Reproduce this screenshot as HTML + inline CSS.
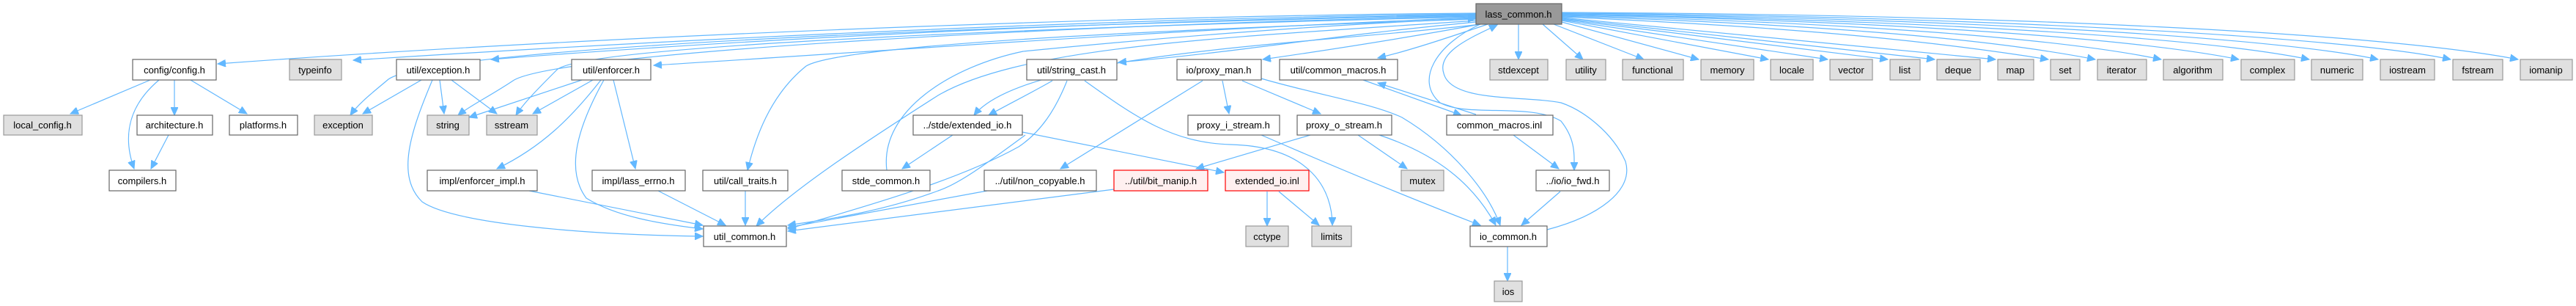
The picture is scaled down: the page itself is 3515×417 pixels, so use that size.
<!DOCTYPE html>
<html><head><meta charset="utf-8"><style>
html,body{margin:0;padding:0;background:#fff;}
svg{display:block;}
text{font-family:"Liberation Sans",sans-serif;font-size:13px;text-anchor:middle;fill:#000;}
.w{fill:#fff;stroke:#666;stroke-width:1.2;}
.g{fill:#e0e0e0;stroke:#999;stroke-width:1.2;}
.r{fill:#fff0f0;stroke:#f00;stroke-width:1.2;}
.m{fill:#999;stroke:#666;stroke-width:1.2;}
.e{fill:none;stroke:#63b8ff;stroke-width:1.2;marker-end:url(#a);}
</style></head><body>
<svg width="3515" height="417" viewBox="0 0 3515 417" xmlns="http://www.w3.org/2000/svg">
<defs><marker id="a" markerUnits="userSpaceOnUse" markerWidth="12" markerHeight="10" refX="11" refY="5" orient="auto"><path d="M0,0 L11,5 L0,10 z" fill="#63b8ff" stroke="#63b8ff"/></marker></defs>
<g>
<path class="e" d="M2014,18 C1500,22 800,50 297,87"/>
<path class="e" d="M2014,19 C1500,25 900,55 482,82"/>
<path class="e" d="M2014,20 C1500,28 1000,55 670,81"/>
<path class="e" d="M2014,21 C1500,30 600,60 530,108 C510,125 490,140 478,157"/>
<path class="e" d="M2014,22 C1500,32 760,70 700,110 C670,130 640,145 625,157"/>
<path class="e" d="M2014,23 C1500,35 800,60 760,95 C735,120 715,140 704,157"/>
<path class="e" d="M2014,24 C1600,40 1200,70 892,89"/>
<path class="e" d="M2014,26 C1600,40 1150,60 1100,90 C1050,130 1030,190 1020,232"/>
<path class="e" d="M2014,28 C1700,50 1400,60 1280,130 C1170,200 1080,260 1032,308"/>
<path class="e" d="M2020,33 C1800,60 1400,70 1329,157"/>
<path class="e" d="M2014,30 C1800,50 1700,70 1526,85"/>
<path class="e" d="M2020,33 C1900,55 1800,70 1723,81"/>
<path class="e" d="M2030,33 C1980,50 1920,70 1880,79"/>
<path class="e" d="M2072,33 L2072,81"/>
<path class="e" d="M1210,232 C1200,150 1300,90 1396,70 C1700,40 1900,30 2014,25"/>
<path class="e" d="M2111,313 C2180,295 2230,260 2218,220 C2200,180 2160,150 2130,140 C2080,130 1980,140 1970,100 C1960,70 2010,50 2043,34"/>
<path class="e" d="M2020,33 C1960,60 1930,110 1965,140 C2000,160 2090,140 2130,165 C2150,190 2148,210 2148,232"/>
<path class="e" d="M2105,33 L2160,81"/>
<path class="e" d="M2120,33 L2243,81"/>
<path class="e" d="M2131,30 L2318,81"/>
<path class="e" d="M2131,28 L2413,81"/>
<path class="e" d="M2131,27 L2494,81"/>
<path class="e" d="M2131,26 L2576,81"/>
<path class="e" d="M2131,25 L2640,81"/>
<path class="e" d="M2131,24 L2723,81"/>
<path class="e" d="M2131,23 C2400,35 2600,50 2795,81"/>
<path class="e" d="M2131,22 C2450,32 2700,50 2859,81"/>
<path class="e" d="M2131,21 C2500,30 2800,50 2949,81"/>
<path class="e" d="M2131,20 C2550,28 2900,50 3055,81"/>
<path class="e" d="M2131,20 C2600,26 3000,50 3151,81"/>
<path class="e" d="M2131,19 C2650,24 3100,50 3245,81"/>
<path class="e" d="M2131,18 C2700,22 3200,50 3344,81"/>
<path class="e" d="M2131,17 C2750,20 3250,45 3436,81"/>
<path class="e" d="M205,109 L96,155"/>
<path class="e" d="M217,109 C180,140 165,180 183,230"/>
<path class="e" d="M238,109 L238,157"/>
<path class="e" d="M260,109 L337,155"/>
<path class="e" d="M230,184 L206,230"/>
<path class="e" d="M575,109 L495,155"/>
<path class="e" d="M600,109 L606,155"/>
<path class="e" d="M616,109 L678,155"/>
<path class="e" d="M590,109 C560,180 540,240 576,275 C620,305 800,320 959,322"/>
<path class="e" d="M794,109 L640,160"/>
<path class="e" d="M809,109 L727,155"/>
<path class="e" d="M820,109 C780,160 740,200 678,230"/>
<path class="e" d="M824,109 C790,170 770,230 800,270 C840,295 900,305 959,312"/>
<path class="e" d="M837,109 L867,230"/>
<path class="e" d="M722,260 L959,307"/>
<path class="e" d="M898,260 L990,307"/>
<path class="e" d="M1017,260 L1017,307"/>
<path class="e" d="M1300,184 L1231,230"/>
<path class="e" d="M1399,184 C1350,220 1310,250 1280,260 C1200,290 1120,300 1075,307"/>
<path class="e" d="M1395,180 L1670,235"/>
<path class="e" d="M1436,110 C1410,125 1380,140 1349,157"/>
<path class="e" d="M1456,110 C1440,150 1420,180 1390,200 C1300,250 1150,290 1075,312"/>
<path class="e" d="M1480,110 C1550,160 1600,195 1680,197 C1790,200 1818,260 1818,307"/>
<path class="e" d="M1347,260 L1075,310"/>
<path class="e" d="M1520,258 L1075,315"/>
<path class="e" d="M1641,110 L1447,230"/>
<path class="e" d="M1668,110 L1677,155"/>
<path class="e" d="M1695,110 L1802,155"/>
<path class="e" d="M1721,107 C1800,130 1870,140 1913,160 C1980,200 2030,260 2047,307"/>
<path class="e" d="M1721,184 C1850,240 1950,280 2020,307"/>
<path class="e" d="M1788,184 L1632,230"/>
<path class="e" d="M1853,184 L1920,230"/>
<path class="e" d="M1882,184 C1960,210 2010,250 2041,307"/>
<path class="e" d="M1860,109 L1994,157"/>
<path class="e" d="M2014,156 L1880,113"/>
<path class="e" d="M2065,184 L2127,230"/>
<path class="e" d="M2129,261 L2076,307"/>
<path class="e" d="M1729,261 L1729,308"/>
<path class="e" d="M1745,261 L1800,307"/>
<path class="e" d="M2057,336 L2057,383"/>
</g>
<g>
<rect class="m" x="2014" y="5" width="117" height="28"/><text x="2072" y="24">lass_common.h</text>
<rect class="w" x="181" y="81" width="114" height="28"/><text x="238" y="100">config/config.h</text>
<rect class="g" x="395" y="81" width="71" height="28"/><text x="430" y="100">typeinfo</text>
<rect class="w" x="541" y="81" width="114" height="28"/><text x="598" y="100">util/exception.h</text>
<rect class="w" x="780" y="81" width="108" height="28"/><text x="834" y="100">util/enforcer.h</text>
<rect class="w" x="1401" y="81" width="123" height="28"/><text x="1462" y="100">util/string_cast.h</text>
<rect class="w" x="1606" y="81" width="115" height="28"/><text x="1663" y="100">io/proxy_man.h</text>
<rect class="w" x="1746" y="81" width="161" height="28"/><text x="1826" y="100">util/common_macros.h</text>
<rect class="g" x="2033" y="81" width="79" height="28"/><text x="2072" y="100">stdexcept</text>
<rect class="g" x="2137" y="81" width="54" height="28"/><text x="2164" y="100">utility</text>
<rect class="g" x="2214" y="81" width="83" height="28"/><text x="2255" y="100">functional</text>
<rect class="g" x="2321" y="81" width="72" height="28"/><text x="2357" y="100">memory</text>
<rect class="g" x="2416" y="81" width="58" height="28"/><text x="2445" y="100">locale</text>
<rect class="g" x="2497" y="81" width="58" height="28"/><text x="2526" y="100">vector</text>
<rect class="g" x="2579" y="81" width="41" height="28"/><text x="2599" y="100">list</text>
<rect class="g" x="2643" y="81" width="59" height="28"/><text x="2672" y="100">deque</text>
<rect class="g" x="2726" y="81" width="49" height="28"/><text x="2750" y="100">map</text>
<rect class="g" x="2798" y="81" width="40" height="28"/><text x="2818" y="100">set</text>
<rect class="g" x="2862" y="81" width="67" height="28"/><text x="2895" y="100">iterator</text>
<rect class="g" x="2952" y="81" width="81" height="28"/><text x="2992" y="100">algorithm</text>
<rect class="g" x="3058" y="81" width="73" height="28"/><text x="3094" y="100">complex</text>
<rect class="g" x="3154" y="81" width="70" height="28"/><text x="3189" y="100">numeric</text>
<rect class="g" x="3248" y="81" width="74" height="28"/><text x="3285" y="100">iostream</text>
<rect class="g" x="3347" y="81" width="68" height="28"/><text x="3381" y="100">fstream</text>
<rect class="g" x="3439" y="81" width="71" height="28"/><text x="3474" y="100">iomanip</text>
<rect class="g" x="5" y="157" width="107" height="27"/><text x="58" y="175">local_config.h</text>
<rect class="w" x="187" y="157" width="103" height="27"/><text x="238" y="175">architecture.h</text>
<rect class="w" x="313" y="157" width="93" height="27"/><text x="359" y="175">platforms.h</text>
<rect class="g" x="429" y="157" width="79" height="27"/><text x="468" y="175">exception</text>
<rect class="g" x="583" y="157" width="57" height="27"/><text x="611" y="175">string</text>
<rect class="g" x="664" y="157" width="69" height="27"/><text x="698" y="175">sstream</text>
<rect class="w" x="1246" y="157" width="149" height="27"/><text x="1320" y="175">../stde/extended_io.h</text>
<rect class="w" x="1621" y="157" width="125" height="27"/><text x="1683" y="175">proxy_i_stream.h</text>
<rect class="w" x="1770" y="157" width="129" height="27"/><text x="1834" y="175">proxy_o_stream.h</text>
<rect class="w" x="1974" y="157" width="145" height="27"/><text x="2046" y="175">common_macros.inl</text>
<rect class="w" x="149" y="232" width="91" height="28"/><text x="194" y="251">compilers.h</text>
<rect class="w" x="583" y="232" width="150" height="28"/><text x="658" y="251">impl/enforcer_impl.h</text>
<rect class="w" x="808" y="232" width="127" height="28"/><text x="871" y="251">impl/lass_errno.h</text>
<rect class="w" x="959" y="232" width="116" height="28"/><text x="1017" y="251">util/call_traits.h</text>
<rect class="w" x="1149" y="232" width="120" height="28"/><text x="1209" y="251">stde_common.h</text>
<rect class="w" x="1343" y="232" width="153" height="28"/><text x="1419" y="251">../util/non_copyable.h</text>
<rect class="r" x="1520" y="232" width="128" height="28"/><text x="1584" y="251">../util/bit_manip.h</text>
<rect class="r" x="1672" y="232" width="114" height="28"/><text x="1729" y="251">extended_io.inl</text>
<rect class="g" x="1912" y="232" width="58" height="28"/><text x="1941" y="251">mutex</text>
<rect class="w" x="2096" y="232" width="100" height="28"/><text x="2146" y="251">../io/io_fwd.h</text>
<rect class="w" x="960" y="308" width="113" height="28"/><text x="1016" y="327">util_common.h</text>
<rect class="g" x="1700" y="308" width="58" height="28"/><text x="1729" y="327">cctype</text>
<rect class="g" x="1790" y="308" width="54" height="28"/><text x="1817" y="327">limits</text>
<rect class="w" x="2006" y="308" width="105" height="28"/><text x="2058" y="327">io_common.h</text>
<rect class="g" x="2039" y="383" width="38" height="28"/><text x="2058" y="402">ios</text>
</g>
</svg>
</body></html>
